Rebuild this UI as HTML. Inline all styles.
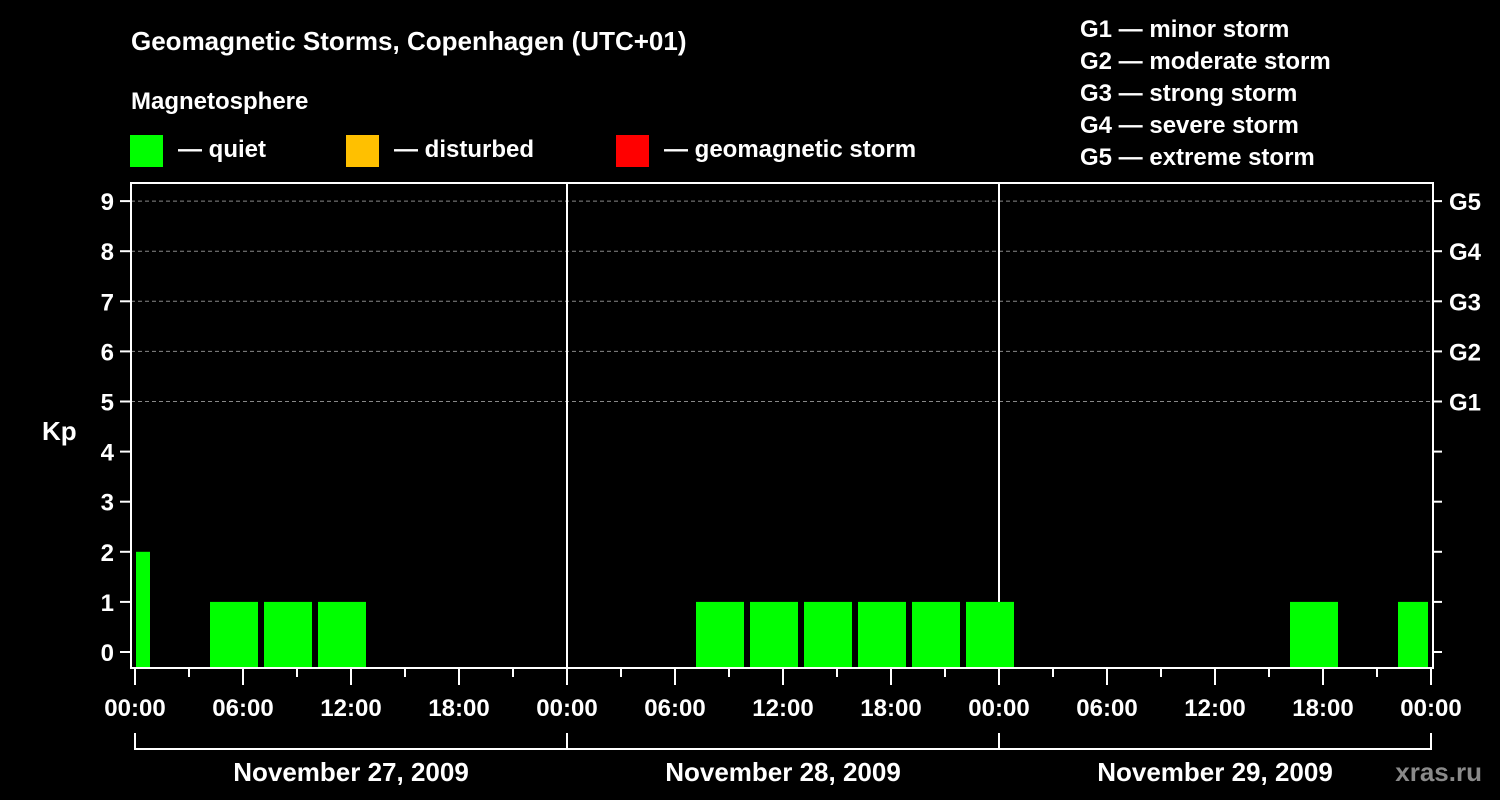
<!DOCTYPE html>
<html><head><meta charset="utf-8"><style>
html,body{margin:0;padding:0;background:#000;}
svg{display:block;font-family:"Liberation Sans",Arial,sans-serif;font-weight:bold;}
</style></head><body>
<svg id="chart" width="1500" height="800" viewBox="0 0 1500 800" xmlns="http://www.w3.org/2000/svg">
<rect width="1500" height="800" fill="#000"/>
<text x="131" y="50" fill="#fff" font-size="26">Geomagnetic Storms, Copenhagen (UTC+01)</text>
<text x="131" y="109" fill="#fff" font-size="24">Magnetosphere</text>
<g>
<rect x="130" y="135" width="33" height="32" fill="#00ff00"/>
<text x="178" y="157" fill="#fff" font-size="24">— quiet</text>
<rect x="346" y="135" width="33" height="32" fill="#ffc000"/>
<text x="394" y="157" fill="#fff" font-size="24">— disturbed</text>
<rect x="616" y="135" width="33" height="32" fill="#ff0000"/>
<text x="664" y="157" fill="#fff" font-size="24">— geomagnetic storm</text>
</g>
<g fill="#fff" font-size="24">
<text x="1080" y="37">G1 — minor storm</text>
<text x="1080" y="69">G2 — moderate storm</text>
<text x="1080" y="101">G3 — strong storm</text>
<text x="1080" y="133">G4 — severe storm</text>
<text x="1080" y="165">G5 — extreme storm</text>
</g>
<text x="42" y="440" fill="#fff" font-size="26">Kp</text>
<text x="1482" y="781" fill="#8a8a8a" font-size="26" text-anchor="end">xras.ru</text>
<g id="grid"></g><g id="bars"></g><g id="axes"></g>
</svg>
<script>
// 3-hour Kp bins starting at -02:00 local (UTC+1 offset), clipped to 0..72h
const kpValues = [2,0,1,1,1,0,0,0,0,0,0,1,1,1,1,1,1,0,0,0,0,0,1,0,1];
const binStartHour = -2;
const yTicks = [0,1,2,3,4,5,6,7,8,9];
const gLabels = ["G1","G2","G3","G4","G5"];
const gLevels = [5,6,7,8,9];
const timeLabels = ["00:00","06:00","12:00","18:00"];
const dayLabels = ["November 27, 2009","November 28, 2009","November 29, 2009"];

const NS="http://www.w3.org/2000/svg";
const L=131,R=1433,T=183,B=668;
const X0=135, PX_H=18;
const x=h=>X0+h*PX_H;
const y=v=>652-v*50.1;
function mk(tag,attrs,parent,txt){const e=document.createElementNS(NS,tag);for(const k in attrs)e.setAttribute(k,attrs[k]);if(txt!==undefined)e.textContent=txt;document.getElementById(parent).appendChild(e);return e;}

// grid
gLevels.forEach(v=>{
  const g=mk('line',{x1:L,x2:R,y1:y(v),y2:y(v),stroke:'#888','stroke-dasharray':'4,3','stroke-width':1},'grid');
  
  
});
// day separators
[1,2].forEach(d=>{
  const s=mk('line',{x1:x(d*24),x2:x(d*24),y1:T,y2:B,stroke:'#fff','stroke-width':2},'grid');
  
  
});
// bars
kpValues.forEach((v,i)=>{
  if(v<=0)return;
  const h0=binStartHour+3*i,h1=h0+3;
  let a=x(h0)+3,b=x(h1)-3;
  a=Math.max(a,x(0)+1);b=Math.min(b,x(72)-3);
  const col=v>=5?'#ff0000':(v>=4?'#ffc000':'#00ff00');
  const r=mk('rect',{x:a,y:y(v),width:b-a,height:B-y(v),fill:col},'bars');
  
  
});
// frame
const fr=mk('rect',{x:L,y:T,width:R-L,height:B-T,fill:'none',stroke:'#fff','stroke-width':2},'axes');


// y ticks
yTicks.forEach(v=>{
  const t=mk('line',{x1:L-11,x2:L,y1:y(v),y2:y(v),stroke:'#fff','stroke-width':2},'axes');
  
  
  const t2=mk('line',{x1:R,x2:R+9,y1:y(v),y2:y(v),stroke:'#fff','stroke-width':2},'axes');
  
  
  const lb=mk('text',{x:114,y:y(v)+9,fill:'#fff','font-size':24,'text-anchor':'end'},'axes',String(v));
  
  
});
gLabels.forEach((g,i)=>{
  const lb=mk('text',{x:1449,y:y(gLevels[i])+9,fill:'#fff','font-size':24},'axes',g);
  
  
});
// x ticks
for(let h=0;h<=72;h+=3){
  const major=h%6===0;
  const t=mk('line',{x1:x(h),x2:x(h),y1:B,y2:major?685:677,stroke:'#fff','stroke-width':2},'axes');
  
  
  if(major){
    const lb=mk('text',{x:x(h),y:716,fill:'#fff','font-size':24,'text-anchor':'middle'},'axes',timeLabels[(h/6)%4]);
    
    
  }
}
// day brackets
const br=mk('line',{x1:x(0),x2:x(72),y1:749,y2:749,stroke:'#fff','stroke-width':2},'axes');


for(let d=0;d<=3;d++){
  const v=mk('line',{x1:x(d*24),x2:x(d*24),y1:733,y2:750,stroke:'#fff','stroke-width':2},'axes');
  
  
}
dayLabels.forEach((d,i)=>{
  const lb=mk('text',{x:x(i*24+12),y:781,fill:'#fff','font-size':26,'text-anchor':'middle'},'axes',d);
  
  
});
</script>
</body></html>
